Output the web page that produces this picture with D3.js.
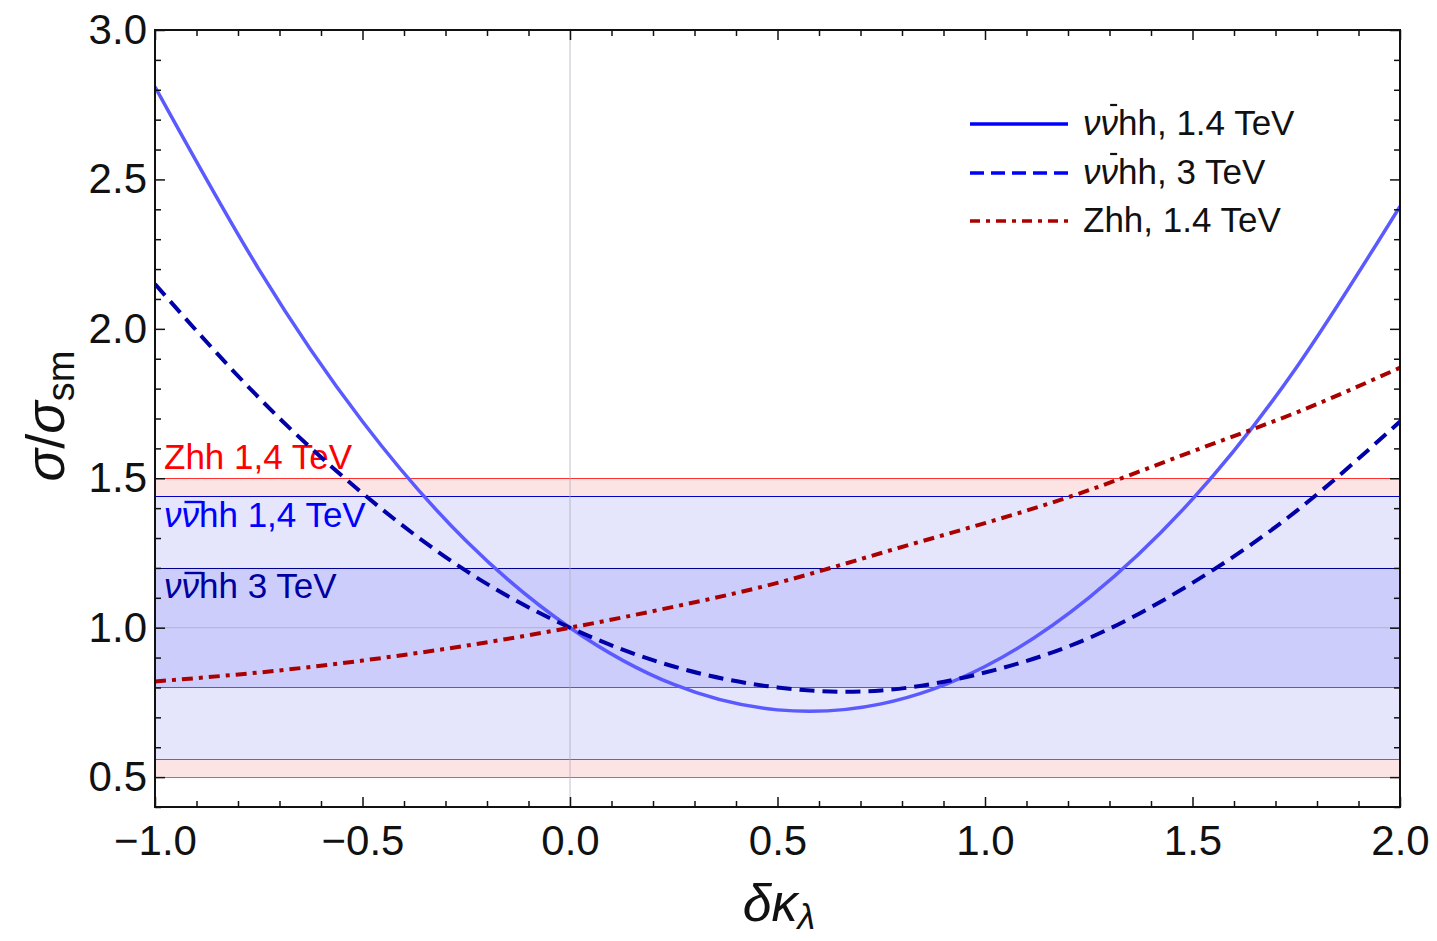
<!DOCTYPE html>
<html>
<head>
<meta charset="utf-8">
<script src="https://cdn.jsdelivr.net/npm/d3@7"></script>
<style>
  html, body { margin: 0; padding: 0; background: #fff; }
  svg { display: block; font-family: "Liberation Sans", Arial, Helvetica, sans-serif; }
</style>
</head>
<body>
<svg id="chart" width="1437" height="941"></svg>
<script>
// Trilinear Higgs coupling shift and the ratio of cross sections
const deltaK = [-1, -0.75, -0.5, -0.25, 0, 0.25, 0.5, 0.75, 1, 1.25, 1.5, 1.75, 2];
const nnhh14 = [2.81, 2.20, 1.69, 1.29, 1.00, 0.81, 0.725, 0.745, 0.87, 1.10, 1.43, 1.87, 2.41];
const nnhh3  = [2.15, 1.77, 1.45, 1.19, 1.00, 0.87, 0.80, 0.79, 0.85, 0.965, 1.15, 1.39, 1.69];
const zhh14  = [0.82, 0.85, 0.89, 0.94, 1.00, 1.07, 1.15, 1.25, 1.35, 1.46, 1.59, 1.72, 1.87];

// Allowed ranges of σ/σsm (lower, upper)
const zhhBand    = [0.5, 1.5];
const nnhh14Band = [0.56, 1.44];
const nnhh3Band  = [0.8, 1.2];

const xTicks = [-1, -0.5, 0, 0.5, 1, 1.5, 2];
const xTickLabels = ["\u22121.0", "\u22120.5", "0.0", "0.5", "1.0", "1.5", "2.0"];
const yTicks = [0.5, 1, 1.5, 2, 2.5, 3];
const yTickLabels = ["0.5", "1.0", "1.5", "2.0", "2.5", "3.0"];

const pLeft = 155, pRight = 1400, pTop = 30, pBottom = 807;
const svg = d3.select("#chart");
const x = d3.scaleLinear().domain([-1, 2]).range([pLeft, pRight]);
const y = d3.scaleLinear().domain([0.4, 3.0]).range([pBottom, pTop]);

const plot = svg.append("g");
plot.append("defs").append("clipPath").attr("id", "clip")
  .append("rect").attr("x", pLeft).attr("y", pTop).attr("width", pRight - pLeft).attr("height", pBottom - pTop);
const inner = plot.append("g").attr("clip-path", "url(#clip)");

// Bands
function band(lim, fill) {
  inner.append("rect")
    .attr("x", pLeft).attr("width", pRight - pLeft)
    .attr("y", y(lim[1])).attr("height", y(lim[0]) - y(lim[1]))
    .attr("fill", fill);
}
band(zhhBand, "#fde4e4");
band(nnhh14Band, "#e5e5fc");
band(nnhh3Band, "#cdcdfb");

function hline(v, color) {
  inner.append("line")
    .attr("x1", pLeft).attr("x2", pRight)
    .attr("y1", Math.round(y(v)) + 0.5).attr("y2", Math.round(y(v)) + 0.5)
    .attr("stroke", color).attr("stroke-width", 1.2);
}
hline(zhhBand[1], "#ff3030");
hline(zhhBand[0], "#ff5050");
hline(nnhh14Band[1], "#0000c0");
hline(nnhh14Band[0], "#6060d8");
hline(nnhh3Band[1], "#000090");
hline(nnhh3Band[0], "#5555ee");

// Grid lines through the SM point
inner.append("line").attr("x1", x(0)).attr("x2", x(0)).attr("y1", pTop).attr("y2", pBottom)
  .attr("stroke", "#aaaabb").attr("stroke-opacity", 0.6).attr("stroke-width", 1.2);
inner.append("line").attr("x1", pLeft).attr("x2", pRight).attr("y1", y(1)).attr("y2", y(1))
  .attr("stroke", "#aaaabb").attr("stroke-opacity", 0.6).attr("stroke-width", 1.2);

// Band labels
function bandLabel(txt, yy, color, nu) {
  const t = inner.append("text").attr("x", 164).attr("y", yy)
    .attr("fill", color).attr("font-size", 35);
  if (nu) {
    t.append("tspan").attr("font-style", "italic").text("\u03BD\u03BD");
    t.append("tspan").text(txt);
    const ext = t.node().getExtentOfChar(1);
    inner.append("line")
      .attr("x1", ext.x + 3).attr("x2", ext.x + ext.width + 3)
      .attr("y1", yy - 25).attr("y2", yy - 25)
      .attr("stroke", color).attr("stroke-width", 2.4);
  } else {
    t.text(txt);
  }
}
bandLabel("Zhh 1,4 TeV", 469, "#ff0000", false);
bandLabel("hh 1,4 TeV", 527, "#0000ff", true);
bandLabel("hh 3 TeV", 598, "#0000a0", true);

// Curves
const line = d3.line().x((d, i) => x(deltaK[i])).y(d => y(d)).curve(d3.curveNatural);
inner.append("path").attr("d", line(nnhh14)).attr("fill", "none")
  .attr("stroke", "#5a5aff").attr("stroke-width", 3.5);
inner.append("path").attr("d", line(nnhh3)).attr("fill", "none")
  .attr("stroke", "#0000a8").attr("stroke-width", 4).attr("stroke-dasharray", "15 8");
inner.append("path").attr("d", line(zhh14)).attr("fill", "none")
  .attr("stroke", "#aa0000").attr("stroke-width", 4).attr("stroke-dasharray", "11 6 4 6");

// Frame ticks (inward, all four sides)
const minorX = d3.range(-10, 21).map(v => v / 10).filter(v => Math.abs(v * 2 - Math.round(v * 2)) > 1e-6);
const minorY = d3.range(4, 31).map(v => v / 10).filter(v => Math.abs(v * 2 - Math.round(v * 2)) > 1e-6);

function styleAxis(g) {
  g.select(".domain").remove();
  g.selectAll(".tick line").attr("stroke", "#111").attr("stroke-width", 1.5);
  g.selectAll("text").attr("font-family", "Liberation Sans, Arial, sans-serif").attr("font-size", 42).attr("fill", "#111");
}
const fmtX = v => xTickLabels[xTicks.indexOf(v)];
const fmtY = v => yTickLabels[yTicks.indexOf(v)];

svg.append("g").attr("transform", `translate(0,${pBottom})`)
  .call(d3.axisBottom(x).tickValues(xTicks).tickFormat(fmtX).tickSize(-10).tickPadding(18)).call(styleAxis);
svg.append("g").attr("transform", `translate(0,${pBottom})`)
  .call(d3.axisBottom(x).tickValues(minorX).tickFormat("").tickSize(-6)).call(styleAxis);
svg.append("g").attr("transform", `translate(0,${pTop})`)
  .call(d3.axisTop(x).tickValues(xTicks).tickFormat("").tickSize(-10)).call(styleAxis);
svg.append("g").attr("transform", `translate(0,${pTop})`)
  .call(d3.axisTop(x).tickValues(minorX).tickFormat("").tickSize(-6)).call(styleAxis);
svg.append("g").attr("transform", `translate(${pLeft},0)`)
  .call(d3.axisLeft(y).tickValues(yTicks).tickFormat(fmtY).tickSize(-10).tickPadding(8)).call(styleAxis);
svg.append("g").attr("transform", `translate(${pLeft},0)`)
  .call(d3.axisLeft(y).tickValues(minorY).tickFormat("").tickSize(-6)).call(styleAxis);
svg.append("g").attr("transform", `translate(${pRight},0)`)
  .call(d3.axisRight(y).tickValues(yTicks).tickFormat("").tickSize(-10)).call(styleAxis);
svg.append("g").attr("transform", `translate(${pRight},0)`)
  .call(d3.axisRight(y).tickValues(minorY).tickFormat("").tickSize(-6)).call(styleAxis);

// Frame
svg.append("rect").attr("x", pLeft).attr("y", pTop).attr("width", pRight - pLeft).attr("height", pBottom - pTop)
  .attr("fill", "none").attr("stroke", "#111").attr("stroke-width", 2);

// Axis titles
const yt = svg.append("text").attr("transform", "translate(64,416) rotate(-90)")
  .attr("text-anchor", "middle").attr("font-size", 54).attr("fill", "#111");
yt.append("tspan").attr("font-style", "italic").text("\u03C3");
yt.append("tspan").text("/");
yt.append("tspan").attr("font-style", "italic").text("\u03C3");
yt.append("tspan").attr("font-size", 38).attr("dy", 10).text("sm");

const xt = svg.append("text").attr("x", 779).attr("y", 921)
  .attr("text-anchor", "middle").attr("font-size", 52).attr("fill", "#111").attr("font-style", "italic");
xt.append("tspan").text("\u03B4\u03BA");
xt.append("tspan").attr("font-size", 36).attr("dy", 8).text("\u03BB");

// Legend
const legendItems = [
  { nu: true, label: "hh, 1.4 TeV", color: "#0000ff", dash: null },
  { nu: true, label: "hh, 3 TeV", color: "#0000ff", dash: "14 7" },
  { nu: false, label: "Zhh, 1.4 TeV", color: "#aa0000", dash: "10 6 4 6" }
];
const legendBase = [135, 184, 232];
legendItems.forEach((it, i) => {
  const by = legendBase[i];
  const ln = svg.append("line").attr("x1", 970).attr("x2", 1068)
    .attr("y1", by - 11).attr("y2", by - 11)
    .attr("stroke", it.color).attr("stroke-width", 3.5);
  if (it.dash) ln.attr("stroke-dasharray", it.dash);
  const t = svg.append("text").attr("x", 1083).attr("y", by).attr("font-size", 35).attr("fill", "#111");
  if (it.nu) {
    t.append("tspan").attr("font-style", "italic").text("\u03BD\u03BD");
    t.append("tspan").text(it.label);
    const ext = t.node().getExtentOfChar(1);
    svg.append("line")
      .attr("x1", ext.x + ext.width * 0.55).attr("x2", ext.x + ext.width * 0.95)
      .attr("y1", by - 30).attr("y2", by - 30)
      .attr("stroke", "#111").attr("stroke-width", 2.2);
  } else {
    t.text(it.label);
  }
});
</script>
</body>
</html>
